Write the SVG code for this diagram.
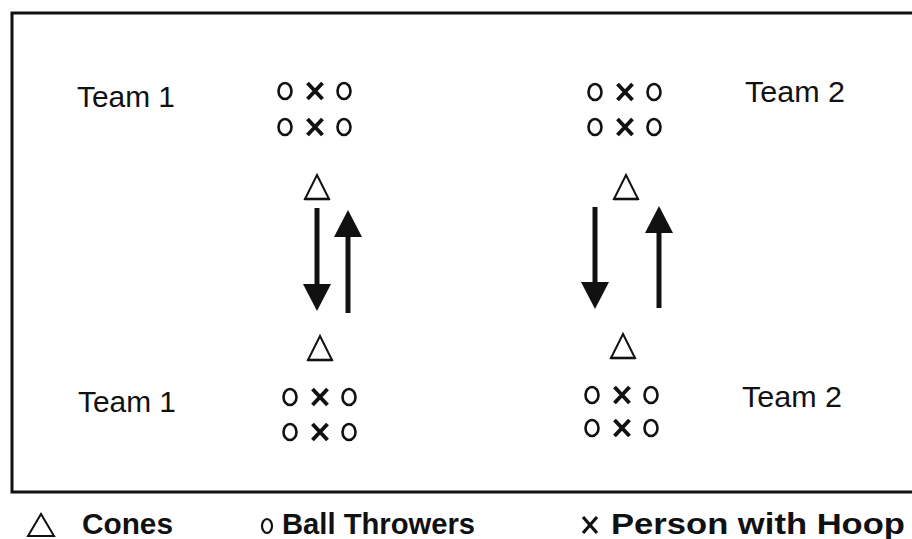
<svg xmlns="http://www.w3.org/2000/svg" xmlns:xlink="http://www.w3.org/1999/xlink" width="912" height="539" viewBox="0 0 912 539">
<style>
.lbl{font-family:"Liberation Sans",Arial,sans-serif;font-size:30px;fill:#111}
.leg{font-family:"Liberation Sans",Arial,sans-serif;font-size:29px;font-weight:bold;fill:#111}
.sh{stroke:#111;stroke-width:5;fill:none}
</style>
<defs>
<g id="o"><ellipse cx="0" cy="0" rx="6.5" ry="8" fill="none" stroke="#111" stroke-width="2.6"/></g>
<g id="x"><path d="M-7.5,-8 L7.5,8 M7.5,-8 L-7.5,8" stroke="#111" stroke-width="3.9" fill="none"/></g>
<g id="cone"><path d="M0,0 L12,24 L-12,24 Z" fill="#fff" stroke="#111" stroke-width="2" stroke-linejoin="miter"/><path d="M-12.5,24 L12.5,24" stroke="#111" stroke-width="2.6"/></g>
<g id="oxo"><use xlink:href="#o" x="-30"/><use xlink:href="#x"/><use xlink:href="#o" x="29"/></g>
<marker id="ah" viewBox="0 0 27 28" markerWidth="27" markerHeight="28" refX="1" refY="14" orient="auto" markerUnits="userSpaceOnUse"><path d="M0,0 L27,14 L0,28 Z" fill="#111"/></marker>
</defs>
<rect width="912" height="539" fill="#fff"/>
<rect x="12" y="13" width="920" height="479" fill="none" stroke="#111" stroke-width="3"/>

<g id="team1-top"><text class="lbl" x="77" y="107" textLength="98" lengthAdjust="spacingAndGlyphs">Team 1</text><use xlink:href="#oxo" x="315" y="91"/><use xlink:href="#oxo" x="315" y="127"/></g>
<g id="team2-top"><text class="lbl" x="745" y="102" textLength="100" lengthAdjust="spacingAndGlyphs">Team 2</text><use xlink:href="#oxo" x="625" y="92"/><use xlink:href="#oxo" x="625" y="127"/></g>
<g id="team1-bottom"><text class="lbl" x="78" y="412" textLength="98" lengthAdjust="spacingAndGlyphs">Team 1</text><use xlink:href="#oxo" x="320" y="397"/><use xlink:href="#oxo" x="320" y="432"/></g>
<g id="team2-bottom"><text class="lbl" x="742" y="407" textLength="100" lengthAdjust="spacingAndGlyphs">Team 2</text><use xlink:href="#oxo" x="622" y="395"/><use xlink:href="#oxo" x="622" y="428"/></g>

<g id="cone-tl"><use xlink:href="#cone" x="317" y="175"/></g>
<g id="cone-bl"><use xlink:href="#cone" x="320" y="336"/></g>
<g id="cone-tr"><use xlink:href="#cone" x="626" y="175"/></g>
<g id="cone-br"><use xlink:href="#cone" x="623" y="334"/></g>

<g id="connectors">
<line class="sh" x1="317" y1="208" x2="317" y2="285" marker-end="url(#ah)"/>
<line class="sh" x1="348" y1="313" x2="348" y2="236" marker-end="url(#ah)"/>
<line class="sh" x1="595" y1="207" x2="595" y2="283" marker-end="url(#ah)"/>
<line class="sh" x1="659" y1="308" x2="659" y2="232" marker-end="url(#ah)"/>
</g>

<g id="legend">
<path d="M41,514 L54,536 L28,536 Z" fill="none" stroke="#111" stroke-width="2"/>
<text class="leg" x="82" y="534" textLength="91" lengthAdjust="spacingAndGlyphs">Cones</text>
<ellipse cx="267" cy="526" rx="5" ry="7" fill="none" stroke="#111" stroke-width="2.2"/>
<text class="leg" x="282" y="534" textLength="193" lengthAdjust="spacingAndGlyphs">Ball Throwers</text>
<path d="M583,517 L597,533 M597,517 L583,533" stroke="#111" stroke-width="3.2" fill="none"/>
<text class="leg" x="611" y="534" textLength="294" lengthAdjust="spacingAndGlyphs">Person with Hoop</text>
</g>
</svg>
